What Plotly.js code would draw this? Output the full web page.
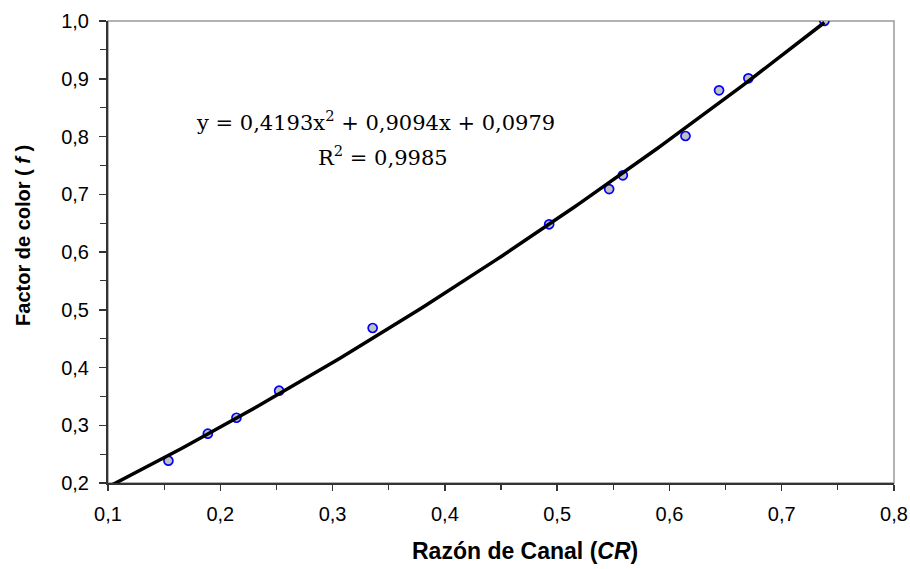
<!DOCTYPE html>
<html>
<head>
<meta charset="utf-8">
<script src="https://cdn.plot.ly/plotly-3.0.1.min.js"></script>
<style>
  html, body { margin: 0; padding: 0; background: #ffffff; }
  #chart { width: 910px; height: 569px; }
</style>
</head>
<body>
<div id="chart"></div>
<script>
// Measured channel ratio (CR) and colour factor (f)
const razonCanal = [0.1538, 0.1889, 0.2144, 0.2524, 0.3357, 0.4929, 0.5463, 0.5585, 0.6143, 0.6442, 0.6703, 0.7380];
const factorColor = [0.2386, 0.2854, 0.3130, 0.3598, 0.4684, 0.6480, 0.7090, 0.7328, 0.8009, 0.8800, 0.9008, 1.0000];

// Second-order polynomial fit: f = a*CR^2 + b*CR + c
const coefPoli = [0.4193, 0.9094, 0.0979];
const r2 = 0.9985;

// X ticks and Y ticks
const xTicks = [0.1, 0.2, 0.3, 0.4, 0.5, 0.6, 0.7, 0.8];
const yTicks = [0.2, 0.3, 0.4, 0.5, 0.6, 0.7, 0.8, 0.9, 1.0];

// Fitted curve sampled from the fit coefficients
const curvaX = [];
const curvaY = [];
for (let i = 0; i <= 120; i++) {
  const x = 0.1 + (0.738 - 0.1) * i / 120;
  curvaX.push(x);
  curvaY.push(coefPoli[0] * x * x + coefPoli[1] * x + coefPoli[2]);
}

const fmt = v => v.toFixed(4).replace('.', ',');
const textoEcuacion = 'y = ' + fmt(coefPoli[0]) + 'x<sup>2</sup> + ' + fmt(coefPoli[1]) + 'x + ' + fmt(coefPoli[2]);
const textoR2 = 'R<sup>2</sup> = ' + fmt(r2);

const puntos = {
  x: razonCanal, y: factorColor,
  type: 'scatter', mode: 'markers',
  marker: { symbol: 'circle', size: 9, color: '#c0c0c0', line: { color: '#0000ff', width: 1.7 } },
  hoverinfo: 'x+y', showlegend: false
};

const ajuste = {
  x: curvaX, y: curvaY,
  type: 'scatter', mode: 'lines',
  line: { color: '#000000', width: 3.5 },
  hoverinfo: 'skip', showlegend: false
};

const tickFont = { family: 'Liberation Sans, Arial, sans-serif', size: 20, color: '#000000' };
const serifFont = { family: 'DejaVu Serif, Liberation Serif, serif', size: 21, color: '#000000' };

const layout = {
  width: 910, height: 569,
  margin: { l: 108, r: 16, t: 21, b: 86 },
  paper_bgcolor: '#ffffff', plot_bgcolor: '#ffffff',
  separators: ', ',
  showlegend: false,
  xaxis: {
    range: [0.1, 0.8], tickvals: xTicks, tickformat: '.1f',
    showgrid: false, zeroline: false,
    showline: true, linecolor: '#333333', linewidth: 2,
    ticks: 'outside', ticklen: 6, tickwidth: 1.5, tickcolor: '#333333',
    minor: { dtick: 0.05, ticks: 'outside', ticklen: 5, tickwidth: 1.2, tickcolor: '#333333', showgrid: false },
    tickfont: tickFont, ticklabelstandoff: 6,
    fixedrange: true
  },
  yaxis: {
    range: [0.2, 1.0], tickvals: yTicks, tickformat: '.1f',
    showgrid: false, zeroline: false,
    showline: true, linecolor: '#333333', linewidth: 2,
    ticks: 'outside', ticklen: 7, tickwidth: 1.5, tickcolor: '#333333',
    minor: { dtick: 0.05, ticks: 'outside', ticklen: 6, tickwidth: 1.2, tickcolor: '#333333', showgrid: false },
    tickfont: tickFont, ticklabelstandoff: 6,
    fixedrange: true
  },
  shapes: [{
    type: 'rect', xref: 'paper', yref: 'paper', x0: 0, x1: 1, y0: 0, y1: 1,
    line: { color: '#999999', width: 1.5 }, layer: 'below'
  }],
  annotations: [
    {
      text: textoEcuacion, xref: 'x', yref: 'y', x: 0.338, y: 0.826,
      xanchor: 'center', yanchor: 'middle', showarrow: false, font: serifFont
    },
    {
      text: textoR2, xref: 'x', yref: 'y', x: 0.345, y: 0.766,
      xanchor: 'center', yanchor: 'middle', showarrow: false, font: serifFont
    },
    {
      text: '<b>Razón de Canal (<i>CR</i>)</b>', xref: 'paper', yref: 'paper',
      x: 0.5305, y: -0.147, xanchor: 'center', yanchor: 'middle', showarrow: false,
      font: { family: 'Liberation Sans, Arial, sans-serif', size: 23, color: '#000000' }
    },
    {
      text: '<b>Factor de color ( <i>f</i> )</b>', xref: 'paper', yref: 'paper',
      x: -0.108, y: 0.535, xanchor: 'center', yanchor: 'middle', textangle: -90, showarrow: false,
      font: { family: 'Liberation Sans, Arial, sans-serif', size: 20, color: '#000000' }
    }
  ]
};

Plotly.newPlot('chart', [puntos, ajuste], layout, { displayModeBar: false, staticPlot: true });
</script>
</body>
</html>
